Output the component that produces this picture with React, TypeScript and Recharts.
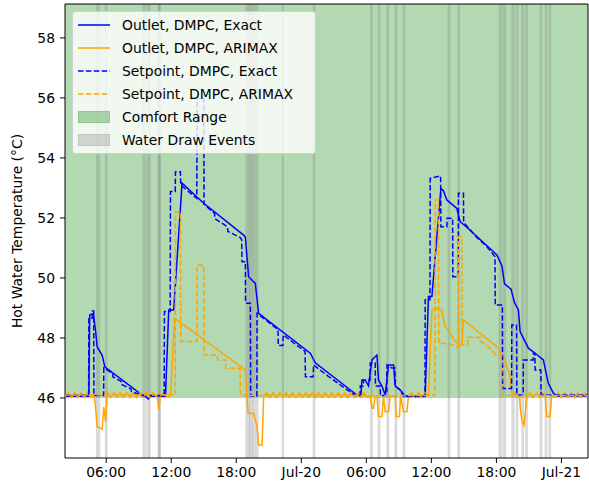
import { ComposedChart, Line, XAxis, YAxis, ReferenceArea } from 'recharts'

type Pt = [number, number]

// hours since Jul-19 00:00, temperature in °C
const outletExact: Pt[] = [
  [2.2, 46.06], [4.4, 46.06], [4.48, 48.77], [4.74, 48.8], [4.83, 48.8], [5.0, 48.3], [5.17, 47.7],
  [5.63, 47.42], [5.87, 47.04], [9.32, 46.1], [9.6, 46.05], [9.9, 45.97], [10.1, 46.06], [11.47, 46.06],
  [11.77, 48.93], [12.23, 48.93], [13.0, 53.16], [15.0, 52.49], [18.68, 51.43], [18.84, 51.36],
  [19.14, 50.04], [19.76, 49.82], [20.06, 48.82], [24.83, 47.49], [25.29, 47.17], [29.13, 46.1],
  [29.5, 46.07], [29.59, 46.6], [29.9, 46.6], [30.2, 46.4], [30.52, 47.27], [30.98, 47.43], [31.12, 46.6],
  [31.44, 46.4], [31.74, 46.1], [32.05, 47.1], [32.51, 47.1], [32.66, 46.4], [33.12, 46.27], [33.58, 46.07],
  [35.43, 46.07], [35.73, 49.38], [36.05, 49.38], [36.88, 52.99], [37.12, 52.9], [37.43, 52.6],
  [38.35, 52.32], [38.65, 51.88], [39.27, 51.69], [42.05, 50.77], [42.51, 50.4], [42.75, 49.8],
  [43.35, 49.63], [43.65, 49.2], [44.03, 48.93], [44.19, 48.21], [44.95, 47.66], [45.57, 47.49],
  [46.33, 47.27], [46.79, 46.49], [47.25, 46.16], [47.6, 46.07], [50.45, 46.07],
]

const outletArimax: Pt[] = [
  [2.2, 46.05], [2.5, 46.17], [2.8, 46.02], [3.1, 46.17], [3.4, 46.02], [3.7, 46.17], [4.0, 46.02],
  [4.3, 46.17], [4.6, 46.02], [4.9, 46.07], [5.01, 45.71], [5.17, 45.04], [5.63, 44.96], [5.78, 45.7],
  [5.94, 45.2], [6.09, 46.2], [6.4, 46.02], [6.7, 46.17], [7.0, 46.02], [7.3, 46.17], [7.6, 46.02],
  [7.9, 46.17], [8.2, 46.02], [8.5, 46.17], [8.8, 46.02], [9.1, 46.17], [9.4, 46.02], [9.7, 46.17],
  [10.0, 46.02], [10.3, 46.17], [10.6, 46.05], [10.7, 46.1], [10.85, 45.6], [11.0, 46.07], [11.3, 46.17],
  [11.6, 46.02], [11.95, 46.08], [12.3, 48.66], [18.84, 46.93], [19.09, 45.49], [19.6, 45.49],
  [19.92, 45.04], [20.06, 44.43], [20.38, 44.43], [20.53, 46.07], [20.8, 46.17], [21.1, 46.02],
  [21.4, 46.17], [21.7, 46.02], [22.0, 46.17], [22.3, 46.02], [22.6, 46.17], [22.9, 46.02], [23.2, 46.17],
  [23.5, 46.02], [23.8, 46.17], [24.1, 46.02], [24.4, 46.17], [24.7, 46.02], [25.0, 46.17], [25.3, 46.02],
  [25.6, 46.17], [25.9, 46.02], [26.2, 46.17], [26.5, 46.02], [26.8, 46.17], [27.1, 46.02], [27.4, 46.17],
  [27.7, 46.02], [28.0, 46.17], [28.3, 46.02], [28.6, 46.17], [28.9, 46.02], [29.2, 46.17], [29.5, 46.02],
  [29.8, 46.17], [30.1, 46.02], [30.36, 46.05], [30.52, 45.66], [30.67, 45.66], [30.82, 46.07],
  [30.98, 46.07], [31.12, 45.38], [31.44, 45.38], [31.59, 46.07], [31.74, 45.54], [32.05, 45.54],
  [32.2, 46.07], [32.66, 46.07], [32.76, 45.38], [33.06, 45.38], [33.15, 46.07], [33.43, 45.54],
  [33.74, 45.54], [33.89, 46.07], [34.2, 46.17], [34.5, 46.02], [34.8, 46.17], [35.1, 46.02],
  [35.4, 46.17], [35.73, 46.07], [36.05, 48.93], [36.35, 49.0], [36.97, 48.93], [37.27, 48.38],
  [37.5, 48.3], [37.89, 48.06], [38.19, 47.88], [38.65, 47.77], [38.81, 47.77], [38.96, 48.6],
  [42.2, 47.66], [42.51, 47.38], [42.8, 47.25], [43.26, 46.71], [43.42, 46.1], [43.7, 46.17],
  [44.0, 46.02], [44.15, 46.07], [44.19, 45.71], [44.34, 45.27], [44.55, 45.1], [44.8, 46.07],
  [45.1, 46.17], [45.4, 46.02], [45.7, 46.17], [46.0, 46.02], [46.3, 46.17], [46.5, 46.07],
  [46.64, 45.38], [46.95, 45.38], [47.1, 46.07], [47.4, 46.02], [47.7, 46.17], [48.0, 46.02],
  [48.3, 46.17], [48.6, 46.02], [48.9, 46.17], [49.2, 46.02], [49.5, 46.17], [49.8, 46.02],
  [50.1, 46.17], [50.45, 46.05],
]

const setpointExact: Pt[] = [
  [2.2, 46.1], [4.38, 46.1], [4.4, 48.66], [4.7, 48.66], [4.72, 48.9], [4.85, 48.9], [4.87, 46.08],
  [5.76, 46.08], [5.78, 47.0], [6.6, 46.82], [6.63, 46.7], [7.4, 46.55], [7.43, 46.45], [8.3, 46.3],
  [8.33, 46.22], [9.3, 46.08], [11.35, 46.08], [11.37, 48.88], [11.9, 48.88], [11.93, 52.88],
  [12.37, 52.88], [12.39, 53.54], [12.85, 53.54], [12.88, 53.1], [14.36, 52.65], [14.39, 56.0],
  [15.0, 56.0], [15.03, 52.45], [16.0, 52.15], [16.03, 51.98], [17.2, 51.7], [17.23, 51.55],
  [18.35, 51.35], [18.5, 51.27], [18.53, 50.54], [18.84, 50.54], [18.86, 49.16], [19.3, 49.16],
  [19.33, 46.07], [19.9, 46.07], [19.92, 48.82], [21.85, 48.28], [21.88, 47.75], [22.3, 47.75],
  [22.33, 48.1], [24.35, 47.55], [24.38, 46.71], [25.1, 46.71], [25.13, 47.1], [26.5, 46.72],
  [27.8, 46.38], [29.0, 46.08], [29.42, 46.08], [29.44, 46.4], [29.72, 46.4], [29.74, 46.6],
  [30.34, 46.6], [30.36, 47.17], [30.82, 47.17], [30.84, 46.4], [31.28, 46.4], [31.3, 46.08],
  [31.88, 46.08], [31.9, 47.1], [32.36, 47.0], [32.64, 47.0], [32.66, 46.4], [33.12, 46.27],
  [33.43, 46.05], [35.41, 46.05], [35.43, 49.27], [35.87, 49.27], [35.89, 53.32], [36.85, 53.4],
  [36.88, 51.71], [37.43, 51.71], [37.45, 51.99], [37.96, 51.99], [37.98, 50.04], [38.48, 50.04],
  [38.5, 52.82], [38.96, 52.82], [38.98, 51.85], [40.2, 51.35], [41.1, 51.05], [41.87, 50.71],
  [41.89, 49.1], [42.55, 49.1], [42.57, 46.32], [43.4, 46.32], [43.42, 48.43], [43.86, 48.43],
  [43.88, 46.1], [44.47, 46.1], [44.49, 47.27], [45.39, 47.27], [45.41, 47.49], [45.55, 47.49],
  [45.57, 46.93], [46.1, 46.93], [46.12, 46.1], [50.45, 46.1],
]

const setpointArimax: Pt[] = [
  [2.2, 46.1], [12.37, 46.1], [12.39, 52.21], [12.85, 52.21], [12.88, 47.88], [14.36, 47.88],
  [14.39, 50.43], [15.0, 50.43], [15.03, 47.43], [16.25, 47.43], [16.28, 47.27], [17.0, 47.27],
  [17.03, 46.99], [18.35, 46.99], [18.38, 46.08], [36.33, 46.08], [36.35, 52.6], [36.65, 52.6],
  [36.68, 47.82], [37.6, 47.82], [38.35, 47.71], [38.48, 47.71], [38.5, 51.38], [38.81, 51.38],
  [38.84, 47.77], [39.35, 47.77], [39.38, 48.02], [40.5, 48.02], [40.53, 47.9], [41.27, 47.71],
  [41.95, 47.43], [42.48, 47.43], [42.5, 46.08], [50.45, 46.08],
]

// water draw events: start hour and duration (h); overlapping ones show darker
const drawStarts = [
  5.05, 5.3, 5.88, 9.35, 9.7, 10.0, 10.75, 10.8, 18.84, 19.2, 19.45, 19.75, 22.2, 25.05, 30.35,
  31.05, 31.85, 32.6, 33.35, 37.5, 38.4, 42.2, 42.6, 43.38, 43.78, 44.3, 44.65, 45.98, 46.45, 46.8,
]
const drawDurations = [
  0.25, 0.15, 0.25, 0.3, 0.35, 0.1, 0.3, 0.2, 0.45, 0.3, 0.3, 0.3, 0.2, 0.25, 0.25,
  0.25, 0.25, 0.25, 0.25, 0.25, 0.25, 0.35, 0.3, 0.3, 0.25, 0.25, 0.25, 0.25, 0.25, 0.25,
]

const comfortLow = 46

const xTicks = [6, 12, 18, 24, 30, 36, 42, 48]
const xTickLabels = ['06:00', '12:00', '18:00', 'Jul-20', '06:00', '12:00', '18:00', 'Jul-21']
const yTicks = [46, 48, 50, 52, 54, 56, 58]

const X_MIN = 2.2
const X_MAX = 50.45
const Y_MIN = 44
const Y_MAX = 59.13

const FONT = '"DejaVu Sans", sans-serif'
const BLUE = '#0000ff'
const ORANGE = '#ffa500'
const DASH = '5.5 2.4'

const series = [
  { key: 'outletExact', pts: outletExact },
  { key: 'outletArimax', pts: outletArimax },
  { key: 'setpointExact', pts: setpointExact },
  { key: 'setpointArimax', pts: setpointArimax },
]

// merge all series onto one shared time column
const rowMap = new Map<number, Record<string, number>>()
series.forEach(({ key, pts }) => {
  pts.forEach(([t, v]) => {
    const row = rowMap.get(t) ?? { t }
    row[key] = v
    rowMap.set(t, row)
  })
})
const rows = [...rowMap.values()].sort((a, b) => a.t - b.t)

const legendItems = [
  { label: 'Outlet, DMPC, Exact', kind: 'line', color: BLUE },
  { label: 'Outlet, DMPC, ARIMAX', kind: 'line', color: ORANGE },
  { label: 'Setpoint, DMPC, Exact', kind: 'dash', color: BLUE },
  { label: 'Setpoint, DMPC, ARIMAX', kind: 'dash', color: ORANGE },
  { label: 'Comfort Range', kind: 'patch', color: 'rgba(0,128,0,0.3)' },
  { label: 'Water Draw Events', kind: 'patch', color: 'rgba(128,128,128,0.3)' },
]

function LegendBox() {
  return (
    <div
      style={{
        position: 'absolute', left: 72, top: 11, width: 244, height: 143, boxSizing: 'border-box',
        background: 'rgba(255,255,255,0.8)', border: '1px solid #d0d0d0', borderRadius: 3,
        fontFamily: FONT, fontSize: 13.9, color: '#000',
      }}
    >
      {legendItems.map((it, i) => (
        <div key={i} style={{ position: 'absolute', left: 0, top: 3 + i * 22.9, height: 20, display: 'flex', alignItems: 'center' }}>
          <svg width={40} height={20} style={{ marginLeft: 5 }}>
            {it.kind === 'patch' ? (
              <rect x={0.5} y={4.5} width={31} height={11} fill={it.color} stroke={it.color} />
            ) : (
              <line x1={0} x2={32} y1={10} y2={10} stroke={it.color} strokeWidth={1.5} strokeDasharray={it.kind === 'dash' ? DASH : undefined} />
            )}
          </svg>
          <span style={{ marginLeft: 4, whiteSpace: 'nowrap' }}>{it.label}</span>
        </div>
      ))}
    </div>
  )
}

export default function App() {
  return (
    <div style={{ position: 'relative', width: 589, height: 494, background: '#fff' }}>
      <style>{'body{margin:0}'}</style>
      <ComposedChart width={589} height={494} data={rows} margin={{ top: 4, right: 1, left: 0, bottom: 0 }}>
        <XAxis
          dataKey="t" type="number" domain={[X_MIN, X_MAX]} allowDataOverflow ticks={xTicks}
          tickFormatter={(v: number) => xTickLabels[xTicks.indexOf(v)] ?? ''}
          axisLine={false} tickLine={{ stroke: '#000' }} tickSize={5} tickMargin={4} height={36}
          tick={{ fill: '#000', fontSize: 13.9, fontFamily: FONT }}
        />
        <YAxis
          type="number" domain={[Y_MIN, Y_MAX]} allowDataOverflow ticks={yTicks} width={65}
          axisLine={false} tickLine={{ stroke: '#000' }} tickSize={5} tickMargin={5}
          tick={{ fill: '#000', fontSize: 13.9, fontFamily: FONT }}
          label={{
            value: 'Hot Water Temperature (°C)', angle: -90, position: 'insideLeft', offset: 17,
            style: { textAnchor: 'middle', fill: '#000', fontSize: 13.9, fontFamily: FONT },
          }}
        />
        <ReferenceArea x1={X_MIN} x2={X_MAX} y1={comfortLow} y2={Y_MAX} fill="#008000" fillOpacity={0.3} stroke="none" />
        {drawStarts.map((s, i) => (
          <ReferenceArea key={i} x1={s} x2={s + drawDurations[i]} y1={Y_MIN} y2={Y_MAX} fill="#808080" fillOpacity={0.3} stroke="none" />
        ))}
        <Line dataKey="outletExact" stroke={BLUE} strokeWidth={1.5} dot={false} connectNulls isAnimationActive={false} />
        <Line dataKey="outletArimax" stroke={ORANGE} strokeWidth={1.5} dot={false} connectNulls isAnimationActive={false} />
        <Line dataKey="setpointExact" stroke={BLUE} strokeWidth={1.5} strokeDasharray={DASH} dot={false} connectNulls isAnimationActive={false} />
        <Line dataKey="setpointArimax" stroke={ORANGE} strokeWidth={1.5} strokeDasharray={DASH} dot={false} connectNulls isAnimationActive={false} />
        <ReferenceArea x1={X_MIN} x2={X_MAX} y1={Y_MIN} y2={Y_MAX} fill="none" stroke="#000" strokeWidth={1} />
      </ComposedChart>
      <LegendBox />
    </div>
  )
}
